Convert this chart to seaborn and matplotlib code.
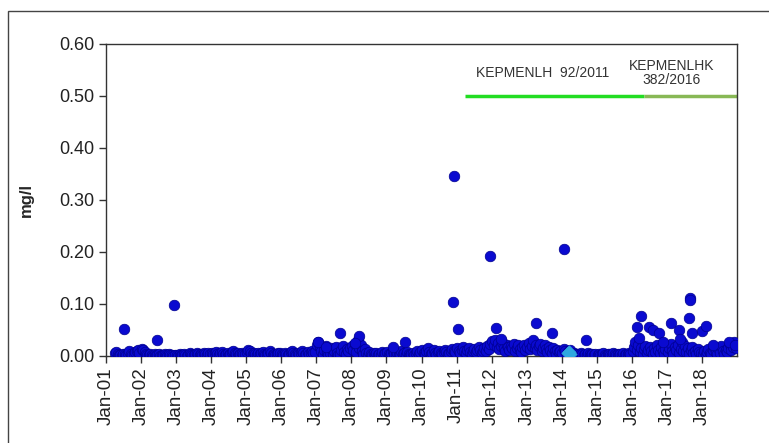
import pandas as pd
import numpy as np
import matplotlib
matplotlib.use("Agg")
import matplotlib.pyplot as plt
import matplotlib.dates as mdates
from matplotlib.patches import Rectangle
import seaborn as sns

# baseline samples, one list per year (mg/l), spread evenly across the year
y2001 = [0.005,0.008,0.003,0.001,0.002,0.000,0.003,0.004,0.002,0.006,0.009,0.004,0.001,0.003,0.007,0.010,0.012,0.006]
y2002 = [0.013,0.011,0.008,0.004,0.002,0.001,0.003,0.002,0.000,0.004,0.002,0.001,0.003,0.000,0.002,0.001,0.004,0.002,0.000,0.003,0.001,0.002,0.000,0.001]
y2003 = [0.002,0.000,0.003,0.001,0.002,0.004,0.001,0.000,0.002,0.005,0.003,0.001,0.002,0.004,0.006,0.003,0.002,0.004,0.001,0.005,0.003,0.002,0.006,0.004]
y2004 = [0.005,0.003,0.006,0.008,0.004,0.002,0.005,0.007,0.003,0.001,0.004,0.006,0.002,0.004,0.007,0.009,0.006,0.003,0.005,0.002,0.004,0.006,0.003,0.004]
y2005 = [0.008,0.012,0.009,0.005,0.003,0.006,0.004,0.002,0.005,0.003,0.006,0.008,0.004,0.002,0.003,0.006,0.009,0.005,0.002,0.004,0.001,0.003,0.005,0.006]
y2006 = [0.004,0.002,0.005,0.003,0.001,0.004,0.007,0.010,0.006,0.003,0.002,0.005,0.003,0.006,0.009,0.005,0.002,0.004,0.007,0.003,0.006,0.009,0.005,0.008]
y2007 = [0.022,0.026,0.018,0.010,0.004,0.012,0.020,0.008,0.002,0.006,0.015,0.003,0.010,0.018,0.006,0.001,0.004,0.012,0.020,0.008,0.003,0.014,0.009,0.016]
y2008 = [0.019,0.012,0.024,0.008,0.030,0.016,0.022,0.010,0.004,0.014,0.006,0.002,0.008,0.003,0.001,0.005,0.002,0.006,0.001,0.004,0.002,0.007,0.003,0.005]
y2009 = [0.008,0.004,0.002,0.006,0.010,0.003,0.001,0.005,0.002,0.004,0.009,0.003,0.006,0.002,0.008,0.004,0.001,0.003,0.006,0.002,0.005,0.010,0.004,0.007]
y2010 = [0.012,0.006,0.004,0.009,0.015,0.008,0.003,0.006,0.011,0.005,0.002,0.007,0.010,0.006,0.004,0.008,0.012,0.007,0.003,0.005,0.009,0.014,0.010,0.008]
y2011 = [0.015,0.010,0.006,0.012,0.018,0.009,0.005,0.011,0.016,0.008,0.004,0.010,0.014,0.007,0.012,0.018,0.011,0.006,0.009,0.015,0.010,0.020,0.014,0.024]
y2012 = [0.028,0.022,0.030,0.018,0.025,0.014,0.020,0.026,0.016,0.010,0.022,0.018,0.012,0.020,0.015,0.024,0.010,0.016,0.021,0.013,0.008,0.017,0.022,0.012]
y2013 = [0.018,0.025,0.014,0.020,0.030,0.016,0.022,0.012,0.019,0.024,0.010,0.016,0.021,0.014,0.008,0.018,0.012,0.006,0.015,0.009,0.004,0.012,0.007,0.010]
y2014 = [0.006,0.014,0.010,0.004,0.008,0.012,0.002,0.004,0.006,0.003,0.001,0.004,0.002,0.005,0.003,0.001,0.004,0.002,0.006,0.003,0.001,0.004,0.002,0.003]
y2015 = [0.002,0.004,0.001,0.003,0.005,0.002,0.000,0.003,0.004,0.001,0.002,0.005,0.003,0.001,0.004,0.002,0.003,0.001,0.005,0.002,0.004,0.003,0.006,0.004]
y2016 = [0.010,0.018,0.026,0.012,0.022,0.008,0.016,0.004,0.014,0.020,0.006,0.012,0.018,0.010,0.003,0.015,0.008,0.022,0.012,0.005,0.018,0.010,0.004,0.014]
y2017 = [0.008,0.016,0.024,0.010,0.004,0.018,0.012,0.022,0.006,0.014,0.026,0.010,0.020,0.008,0.015,0.004,0.012,0.018,0.006,0.010,0.003,0.014,0.008,0.005]
y2018 = [0.004,0.010,0.002,0.008,0.014,0.006,0.003,0.012,0.018,0.008,0.004,0.015,0.006,0.020,0.010,0.003,0.012,0.008,0.016,0.024,0.012,0.018,0.026,0.015]

# higher individual readings
peak_dates = ["2001-07-05","2002-06-20","2002-12-10","2007-01-20","2007-04-10","2007-09-01",
              "2008-03-25","2008-02-10","2009-03-05","2009-07-10","2010-12-05","2010-11-28",
              "2011-01-20","2011-12-20","2012-02-20","2012-04-10","2013-04-10","2013-09-25",
              "2014-01-28","2014-09-05","2016-02-28","2016-04-08","2016-03-15","2016-07-01",
              "2016-08-05","2016-10-10","2016-11-20","2017-02-15","2017-05-05","2017-05-20",
              "2017-08-28","2017-09-02","2017-08-20","2017-09-20","2018-01-01","2018-02-15",
              "2018-04-20","2018-10-10","2018-12-10"]
peak_vals = [0.052,0.031,0.098,0.027,0.018,0.044,
             0.038,0.025,0.017,0.026,0.346,0.103,
             0.052,0.192,0.053,0.032,0.064,0.044,
             0.206,0.031,0.056,0.077,0.035,0.055,
             0.050,0.045,0.026,0.063,0.050,0.032,
             0.111,0.108,0.073,0.045,0.048,0.058,
             0.022,0.027,0.022]

# light blue diamonds
diam_dates = ["2014-03-10","2014-03-15","2014-03-25"]
diam_vals = [0.005,0.008,0.003]

# standard lines
std1 = ["2011-04-01", "2016-05-10", 0.50]
std2 = ["2016-05-10", "2018-12-31", 0.50]


def spread(start, end, vals):
    d = pd.date_range(start, end, periods=len(vals) + 1)[:-1]
    return pd.DataFrame({"date": d, "val": vals})


years = [y2001, y2002, y2003, y2004, y2005, y2006, y2007, y2008, y2009,
         y2010, y2011, y2012, y2013, y2014, y2015, y2016, y2017, y2018]
parts = []
for i, v in enumerate(years):
    yr = 2001 + i
    start = "2001-04-01" if yr == 2001 else f"{yr}-01-08"
    parts.append(spread(start, f"{yr}-12-31", v))
parts.append(pd.DataFrame({"date": pd.to_datetime(peak_dates), "val": peak_vals}))
df = pd.concat(parts, ignore_index=True)
dd = pd.DataFrame({"date": pd.to_datetime(diam_dates), "val": diam_vals})

sns.set_style("white")
plt.rcParams["font.family"] = ["Liberation Sans", "DejaVu Sans"]

fig = plt.figure(figsize=(7.69, 4.43), dpi=100)
ax = fig.add_axes([0.1378, 0.1964, 0.8206, 0.7043])

# outer frame of the picture
fig.patches.append(Rectangle((8 / 769, -0.05), 1.0, 1 - 11 / 443 + 0.05,
                             transform=fig.transFigure, fill=False,
                             edgecolor="#444444", linewidth=1.0))

sns.scatterplot(data=df, x="date", y="val", ax=ax, color="#0a0ad0", s=58,
                edgecolor="#000090", linewidth=0.5, zorder=3)
sns.scatterplot(data=dd, x="date", y="val", ax=ax, color="#2fa8e0", marker="D",
                s=45, edgecolor="#2fa8e0", zorder=4)

ax.plot(pd.to_datetime(std1[:2]), [std1[2]] * 2, color="#22dd22", lw=2.5, solid_capstyle="butt")
ax.plot(pd.to_datetime(std2[:2]), [std2[2]] * 2, color="#88b855", lw=2.5, solid_capstyle="butt")

ax.text(pd.Timestamp("2013-06-15"), 0.545, "KEPMENLH  92/2011", ha="center", va="center",
        fontsize=10, color="#333333")
ax.text(pd.Timestamp("2017-02-20"), 0.545, "KEPMENLHK\n382/2016", ha="center", va="center",
        fontsize=10, color="#333333", linespacing=1.0)

ax.set_xlim(pd.Timestamp("2001-01-01"), pd.Timestamp("2018-12-31"))
ax.set_ylim(0, 0.60)
ax.set_yticks(np.arange(0, 0.61, 0.10))
ax.yaxis.set_major_formatter(matplotlib.ticker.FormatStrFormatter("%.2f"))
ax.xaxis.set_major_locator(mdates.YearLocator())
ax.xaxis.set_major_formatter(mdates.DateFormatter("%b-%y"))
plt.setp(ax.get_xticklabels(), rotation=90)
ax.tick_params(axis="both", direction="out", length=5, width=1, color="#333333",
               labelsize=13, labelcolor="#222222", left=True, bottom=True)
ax.tick_params(axis="x", labelsize=13.5, pad=3)

for sp in ax.spines.values():
    sp.set_color("#333333")
    sp.set_linewidth(1.0)

ax.set_xlabel("")
ax.set_ylabel("mg/l", fontsize=12, fontweight="bold", labelpad=18)

fig.savefig("out.png", dpi=100)
